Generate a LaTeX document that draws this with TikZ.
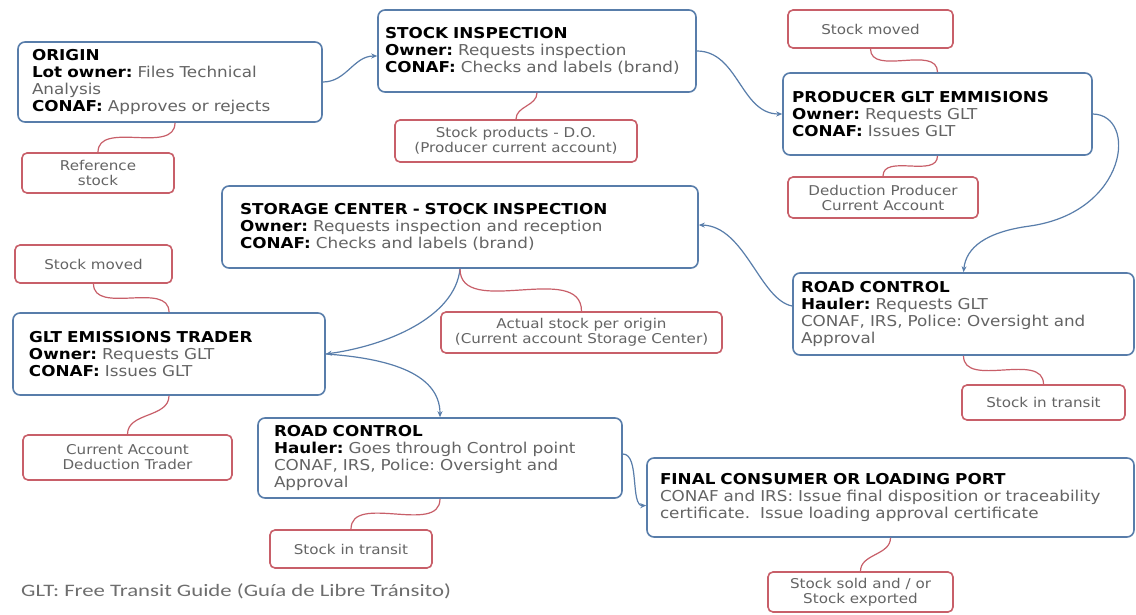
\documentclass[tikz,border=0pt]{standalone}
\usepackage{fontspec}
\setmainfont{DejaVu Sans}
\newfontfamily\boxfont[FakeStretch=1.12]{DejaVu Sans}
\newfontfamily\labfont[FakeStretch=1.12]{DejaVu Sans}
\newfontfamily\footfont[FakeStretch=1.3]{Carlito}
\usetikzlibrary{arrows.meta,calc}
\definecolor{bcol}{RGB}{88,125,170}
\definecolor{rcol}{RGB}{200,95,105}
\definecolor{tgrey}{RGB}{100,100,100}
\definecolor{fgrey}{RGB}{110,110,110}
\newcommand{\bk}[1]{\textcolor{black}{\bfseries #1}}
\frenchspacing
\begin{document}
\begin{tikzpicture}[x=1pt,y=-1pt,
 bbox/.style={draw=bcol, line width=1.6pt, rounded corners=7pt, align=left,
   font=\boxfont\fontsize{15}{17}\selectfont, text=tgrey, inner ysep=2pt},
 rbox/.style={draw=rcol, line width=1.6pt, rounded corners=5pt, align=center,
   font=\labfont\fontsize{13.5}{15}\selectfont, text=tgrey, inner sep=1pt},
 bl/.style={draw=bcol, line width=1.2pt, -{Stealth[length=6pt,width=5pt]}},
 rl/.style={draw=rcol, line width=1.2pt}]
\useasboundingbox (0,0) rectangle (1136,615);
\fill[white] (0,0) rectangle (1136,615);

% blue process boxes
\node[bbox, minimum width=304pt, minimum height=80pt, text width=276pt, inner xsep=14pt] (origin) at (170,82)
 {\bk{ORIGIN}\\\bk{Lot owner:} Files Technical\\Analysis\\\bk{CONAF:} Approves or rejects};
\node[bbox, minimum width=318pt, minimum height=82pt, text width=304pt, inner xsep=7pt] (stockinsp) at (537,51)
 {\bk{STOCK INSPECTION}\\\bk{Owner:} Requests inspection\\\bk{CONAF:} Checks and labels (brand)};
\node[bbox, minimum width=309pt, minimum height=82pt, text width=291pt, inner xsep=9pt] (producer) at (937.5,114)
 {\bk{PRODUCER GLT EMMISIONS}\\\bk{Owner:} Requests GLT\\\bk{CONAF:} Issues GLT};
\node[bbox, minimum width=476pt, minimum height=82pt, text width=440pt, inner xsep=18pt] (storage) at (460,227)
 {\bk{STORAGE CENTER - STOCK INSPECTION}\\\bk{Owner:} Requests inspection and reception\\\bk{CONAF:} Checks and labels (brand)};
\node[bbox, minimum width=341pt, minimum height=82pt, text width=325pt, inner xsep=8pt] (road1) at (963.5,314)
 {\bk{ROAD CONTROL}\\\bk{Hauler:} Requests GLT\\CONAF, IRS, Police: Oversight and\\Approval};
\node[bbox, minimum width=312pt, minimum height=82pt, text width=280pt, inner xsep=16pt] (trader) at (169,354)
 {\bk{GLT EMISSIONS TRADER}\\\bk{Owner:} Requests GLT\\\bk{CONAF:} Issues GLT};
\node[bbox, minimum width=364pt, minimum height=80pt, text width=332pt, inner xsep=16pt] (road2) at (440,458)
 {\bk{ROAD CONTROL}\\\bk{Hauler:} Goes through Control point\\CONAF, IRS, Police: Oversight and\\Approval};
\node[bbox, minimum width=487pt, minimum height=79pt, text width=461pt, inner xsep=13pt] (final) at (890.5,497.5)
 {\bk{FINAL CONSUMER OR LOADING PORT}\\CONAF and IRS: Issue final disposition or traceability\\certificate.\ \ Issue loading approval certificate};

% red stock boxes
\node[rbox, minimum width=152pt, minimum height=40pt] (refstock) at (98,173) {Reference\\stock};
\node[rbox, minimum width=242pt, minimum height=42pt] (stockprod) at (516,141) {Stock products - D.O.\\(Producer current account)};
\node[rbox, minimum width=165pt, minimum height=38pt] (moved1) at (870.5,29) {Stock moved};
\node[rbox, minimum width=190pt, minimum height=41pt] (deduction) at (883,197.5) {Deduction Producer\\Current Account};
\node[rbox, minimum width=157pt, minimum height=38pt] (moved2) at (93.5,264) {Stock moved};
\node[rbox, minimum width=163pt, minimum height=35pt] (transit1) at (1043.5,402.5) {Stock in transit};
\node[rbox, minimum width=281pt, minimum height=41pt] (actual) at (581.5,332.5) {Actual stock per origin\\(Current account Storage Center)};
\node[rbox, minimum width=209pt, minimum height=45pt] (curacc) at (127.5,457.5) {Current Account\\Deduction Trader};
\node[rbox, minimum width=162pt, minimum height=38pt] (transit2) at (351,549) {Stock in transit};
\node[rbox, minimum width=185pt, minimum height=40pt] (sold) at (860.5,592) {Stock sold and / or\\Stock exported};

\node[anchor=west, font=\footfont\fontsize{17.5}{19}\selectfont, text=fgrey, inner sep=0pt] (note) at (21,591)
 {GLT: Free Transit Guide (Guía de Libre Tránsito)};

% blue flow connectors
\draw[bl] (origin.east) to[out=0,in=180] ($(stockinsp.west)+(0,5)$);
\draw[bl] (stockinsp.east) to[out=0,in=180] (producer.west);
\draw[bl] (producer.east) .. controls (1138,115) and (1128,212) .. (1030,226)
  .. controls (985,232) and (966,248) .. (road1.north);
\draw[bl] ($(road1.west)+(0,-8)$) .. controls (760,300) and (745,226) .. ($(storage.east)+(0,-2)$);
\draw[bl] (storage.south) .. controls (455,318) and (385,346) .. (trader.east);
\draw[bl] (trader.east) .. controls (385,358) and (440,372) .. (road2.north);
\draw[bl] ($(road2.east)+(0,-4)$) .. controls (640,454) and (630,506) .. ($(final.west)+(0,8)$);

% red account connectors
\draw[rl] ($(origin.south)+(5,0)$) to[out=-90,in=90] (refstock.north);
\draw[rl] (stockinsp.south) to[out=-90,in=90] (stockprod.north);
\draw[rl] (moved1.south) to[out=-90,in=90] (producer.north);
\draw[rl] (producer.south) to[out=-90,in=90] (deduction.north);
\draw[rl] (storage.south) to[out=-90,in=90] (actual.north);
\draw[rl] (moved2.south) to[out=-90,in=90] (trader.north);
\draw[rl] (trader.south) to[out=-90,in=90] (curacc.north);
\draw[rl] (road1.south) to[out=-90,in=90] (transit1.north);
\draw[rl] (road2.south) to[out=-90,in=90] (transit2.north);
\draw[rl] (final.south) to[out=-90,in=90] (sold.north);
\end{tikzpicture}
\end{document}
